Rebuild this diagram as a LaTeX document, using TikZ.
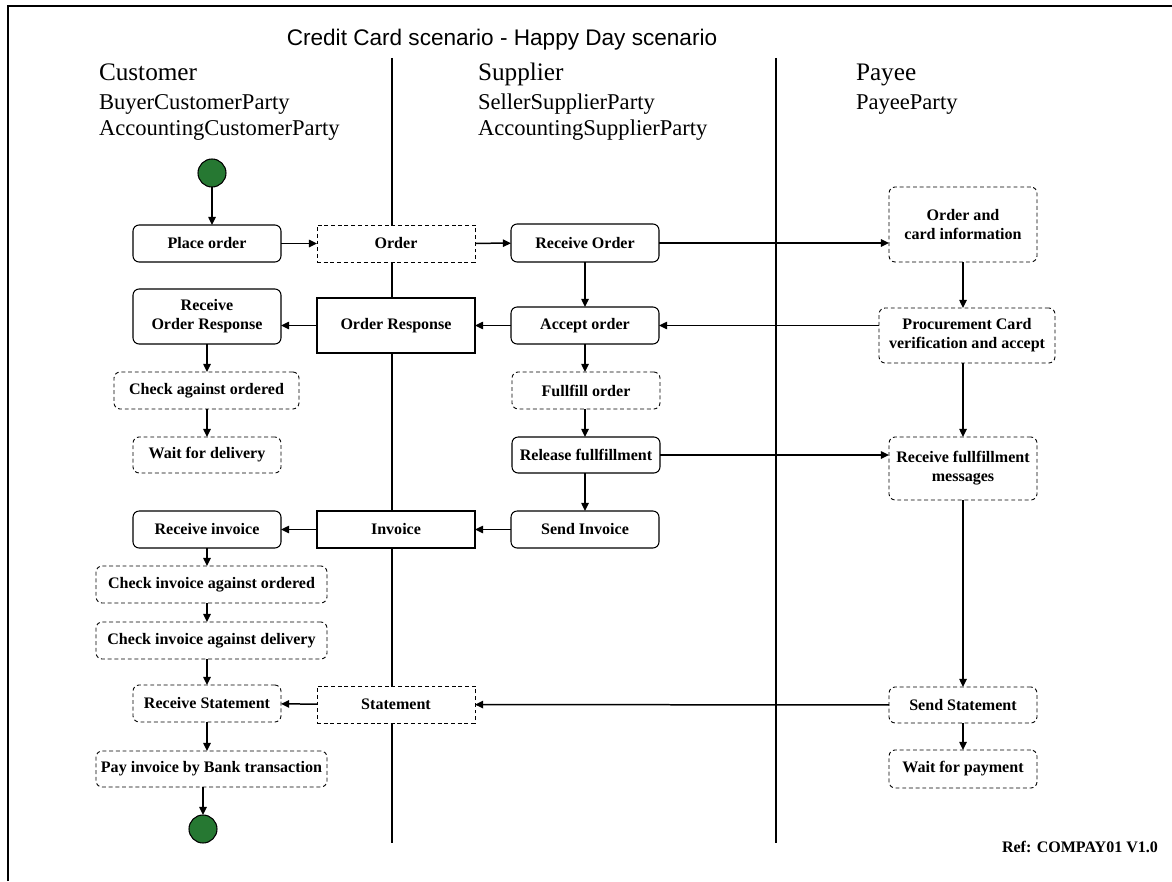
\documentclass[tikz,border=0pt]{standalone}
\usepackage{fontspec}
\setmainfont{Liberation Serif}
\newfontfamily\titlefont{Liberation Sans}
\usetikzlibrary{arrows.meta}
\definecolor{startgreen}{RGB}{38,120,50}
\begin{document}
\begin{tikzpicture}[x=0.567pt,y=-0.567pt,
  every node/.style={inner sep=0pt, outer sep=0pt, align=center,
    font=\fontsize{9.1}{10.9}\selectfont\bfseries},
  sz/.style 2 args={minimum width=#1*0.567pt, minimum height=#2*0.567pt},
  actbox/.style={draw, line width=0.6pt, rounded corners=3.5pt, fill=white},
  optbox/.style={actbox, line width=0.5pt, dash pattern=on 2.2pt off 1.6pt},
  docbox/.style={draw, line width=0.6pt, fill=white},
  optdoc/.style={docbox, line width=0.5pt, dash pattern=on 2.2pt off 1.6pt},
  flow/.style={line width=0.85pt, -{Triangle[length=4.6pt,width=4.2pt]}},
  lane/.style={line width=1.4pt},
  terminal/.style={circle, draw, line width=0.6pt, fill=startgreen, minimum size=28*0.567pt},
  lanehead/.style={anchor=base west, font=\fontsize{14.3}{17}\selectfont},
  lanesub/.style={anchor=base west, font=\fontsize{12.8}{15}\selectfont}]

\useasboundingbox (0,0) rectangle (1172,881);

% outer frame (top and left edges)
\coordinate (fbl) at (8,881);
\coordinate (ftl) at (8,6);
\coordinate (ftr) at (1172,6);
\draw[line width=1.1pt] (fbl) -- (ftl) -- (ftr);

% title
\node[font=\titlefont\fontsize{12.8}{15}\selectfont] (title) at (502,40) {Credit Card scenario - Happy Day scenario};

% swimlane separators
\coordinate (l1t) at (392,58);
\coordinate (l1b) at (392,843);
\coordinate (l2t) at (776,58);
\coordinate (l2b) at (776,843);
\draw[lane] (l1t) -- (l1b);
\draw[lane] (l2t) -- (l2b);

% lane headings
\node[lanehead] (hcust) at (99,81) {Customer};
\node[lanesub] (hcust1) at (99,110) {BuyerCustomerParty};
\node[lanesub] (hcust2) at (99,136) {AccountingCustomerParty};
\node[lanehead] (hsupp) at (478,81) {Supplier};
\node[lanesub] (hsupp1) at (478,110) {SellerSupplierParty};
\node[lanesub] (hsupp2) at (478,136) {AccountingSupplierParty};
\node[lanehead] (hpay) at (856,81) {Payee};
\node[lanesub] (hpay1) at (856,110) {PayeeParty};

% start and end
\node[terminal] (start) at (212,173) {};
\node[terminal] (endc) at (203,829) {};

% customer lane
\node[actbox, sz={148}{37}] (place) at (207,243.5) {Place order};
\node[actbox, sz={148}{55}] (rcvresp) at (207,316.5) {Receive\\Order Response};
\node[optbox, sz={185}{37}] (chk) at (206.5,390.5) {Check against ordered};
\node[optbox, sz={148}{36}] (waitdel) at (207,455) {Wait for delivery};
\node[actbox, sz={148}{37}] (rcvinv) at (207,529.5) {Receive invoice};
\node[optbox, sz={231}{37}] (chk1) at (211.5,584.5) {Check invoice against ordered};
\node[optbox, sz={231}{37}] (chk2) at (211.5,640.5) {Check invoice against delivery};
\node[optbox, sz={148}{37}] (rcvstmt) at (207,703.5) {Receive Statement};
\node[optbox, sz={231}{36}] (pay) at (211.5,769) {Pay invoice by Bank transaction};

% documents exchanged on the customer/supplier border
\node[optdoc, sz={158}{37}] (order) at (396,243.5) {Order};
\node[docbox, sz={158}{55}] (ordresp) at (396,325.5) {Order Response};
\node[docbox, sz={158}{37}] (invoice) at (396,529.5) {Invoice};
\node[optdoc, sz={158}{37}] (stmt) at (396,704.5) {Statement};

% supplier lane
\node[actbox, sz={148}{38}] (rcvorder) at (585,243) {Receive Order};
\node[actbox, sz={148}{37}] (accept) at (585,325.5) {Accept order};
\node[optbox, sz={148}{37}] (fulfill) at (586,390.5) {Fullfill order};
\node[actbox, sz={148}{36}] (release) at (586,455) {Release fullfillment};
\node[actbox, sz={148}{37}] (sendinv) at (585,529.5) {Send Invoice};

% payee lane
\node[optbox, sz={148}{75}, font=\fontsize{9.1}{11.3}\selectfont\bfseries] (ocard) at (963,224.5) {Order and\\card information};
\node[optbox, sz={176}{55}] (proc) at (967,335.5) {Procurement Card\\verification and accept};
\node[optbox, sz={148}{63}] (rfm) at (963,468.5) {Receive fullfillment\\messages};
\node[optbox, sz={148}{36}] (sendstmt) at (963,705) {Send Statement};
\node[optbox, sz={148}{38}] (waitpay) at (963,769) {Wait for payment};

% reference tag
\node[anchor=east] (ref) at (1158,847) {Ref: COMPAY01 V1.0};

% flows: ordering
\draw[flow] (start) -- (start |- place.north);
\draw[flow] (place) -- (order);
\draw[flow] (order) -- (rcvorder);
\draw[flow] (rcvorder.east) -- (rcvorder.east -| ocard.west);
\draw[flow] (rcvorder) -- (accept);
\draw[flow] (ocard) -- (ocard |- proc.north);
\draw[flow] (proc.west |- accept) -- (accept.east);
\draw[flow] (accept) -- (ordresp);
\draw[flow] (ordresp.west) -- (ordresp.west -| rcvresp.east);
\draw[flow] (rcvresp) -- (rcvresp |- chk.north);
\draw[flow] (rcvresp |- chk.south) -- (rcvresp |- waitdel.north);

% flows: fulfilment and invoicing
\draw[flow] (accept) -- (accept |- fulfill.north);
\draw[flow] (accept |- fulfill.south) -- (accept |- release.north);
\draw[flow] (release.east) -- (release.east -| rfm.west);
\draw[flow] (rfm |- proc.south) -- (rfm.north);
\draw[flow] (sendinv |- release.south) -- (sendinv.north);
\draw[flow] (sendinv) -- (invoice);
\draw[flow] (invoice) -- (rcvinv);
\draw[flow] (rcvinv) -- (rcvinv |- chk1.north);
\draw[flow] (rcvinv |- chk1.south) -- (rcvinv |- chk2.north);
\draw[flow] (rcvstmt |- chk2.south) -- (rcvstmt.north);

% flows: statement and payment
\draw[flow] (rfm) -- (sendstmt);
\draw[flow] (sendstmt) -- (waitpay);
\draw[flow] (sendstmt) -- (stmt);
\draw[flow] (stmt) -- (rcvstmt);
\draw[flow] (rcvstmt) -- (rcvstmt |- pay.north);
\draw[flow] (endc |- pay.south) -- (endc);
\end{tikzpicture}
\end{document}
